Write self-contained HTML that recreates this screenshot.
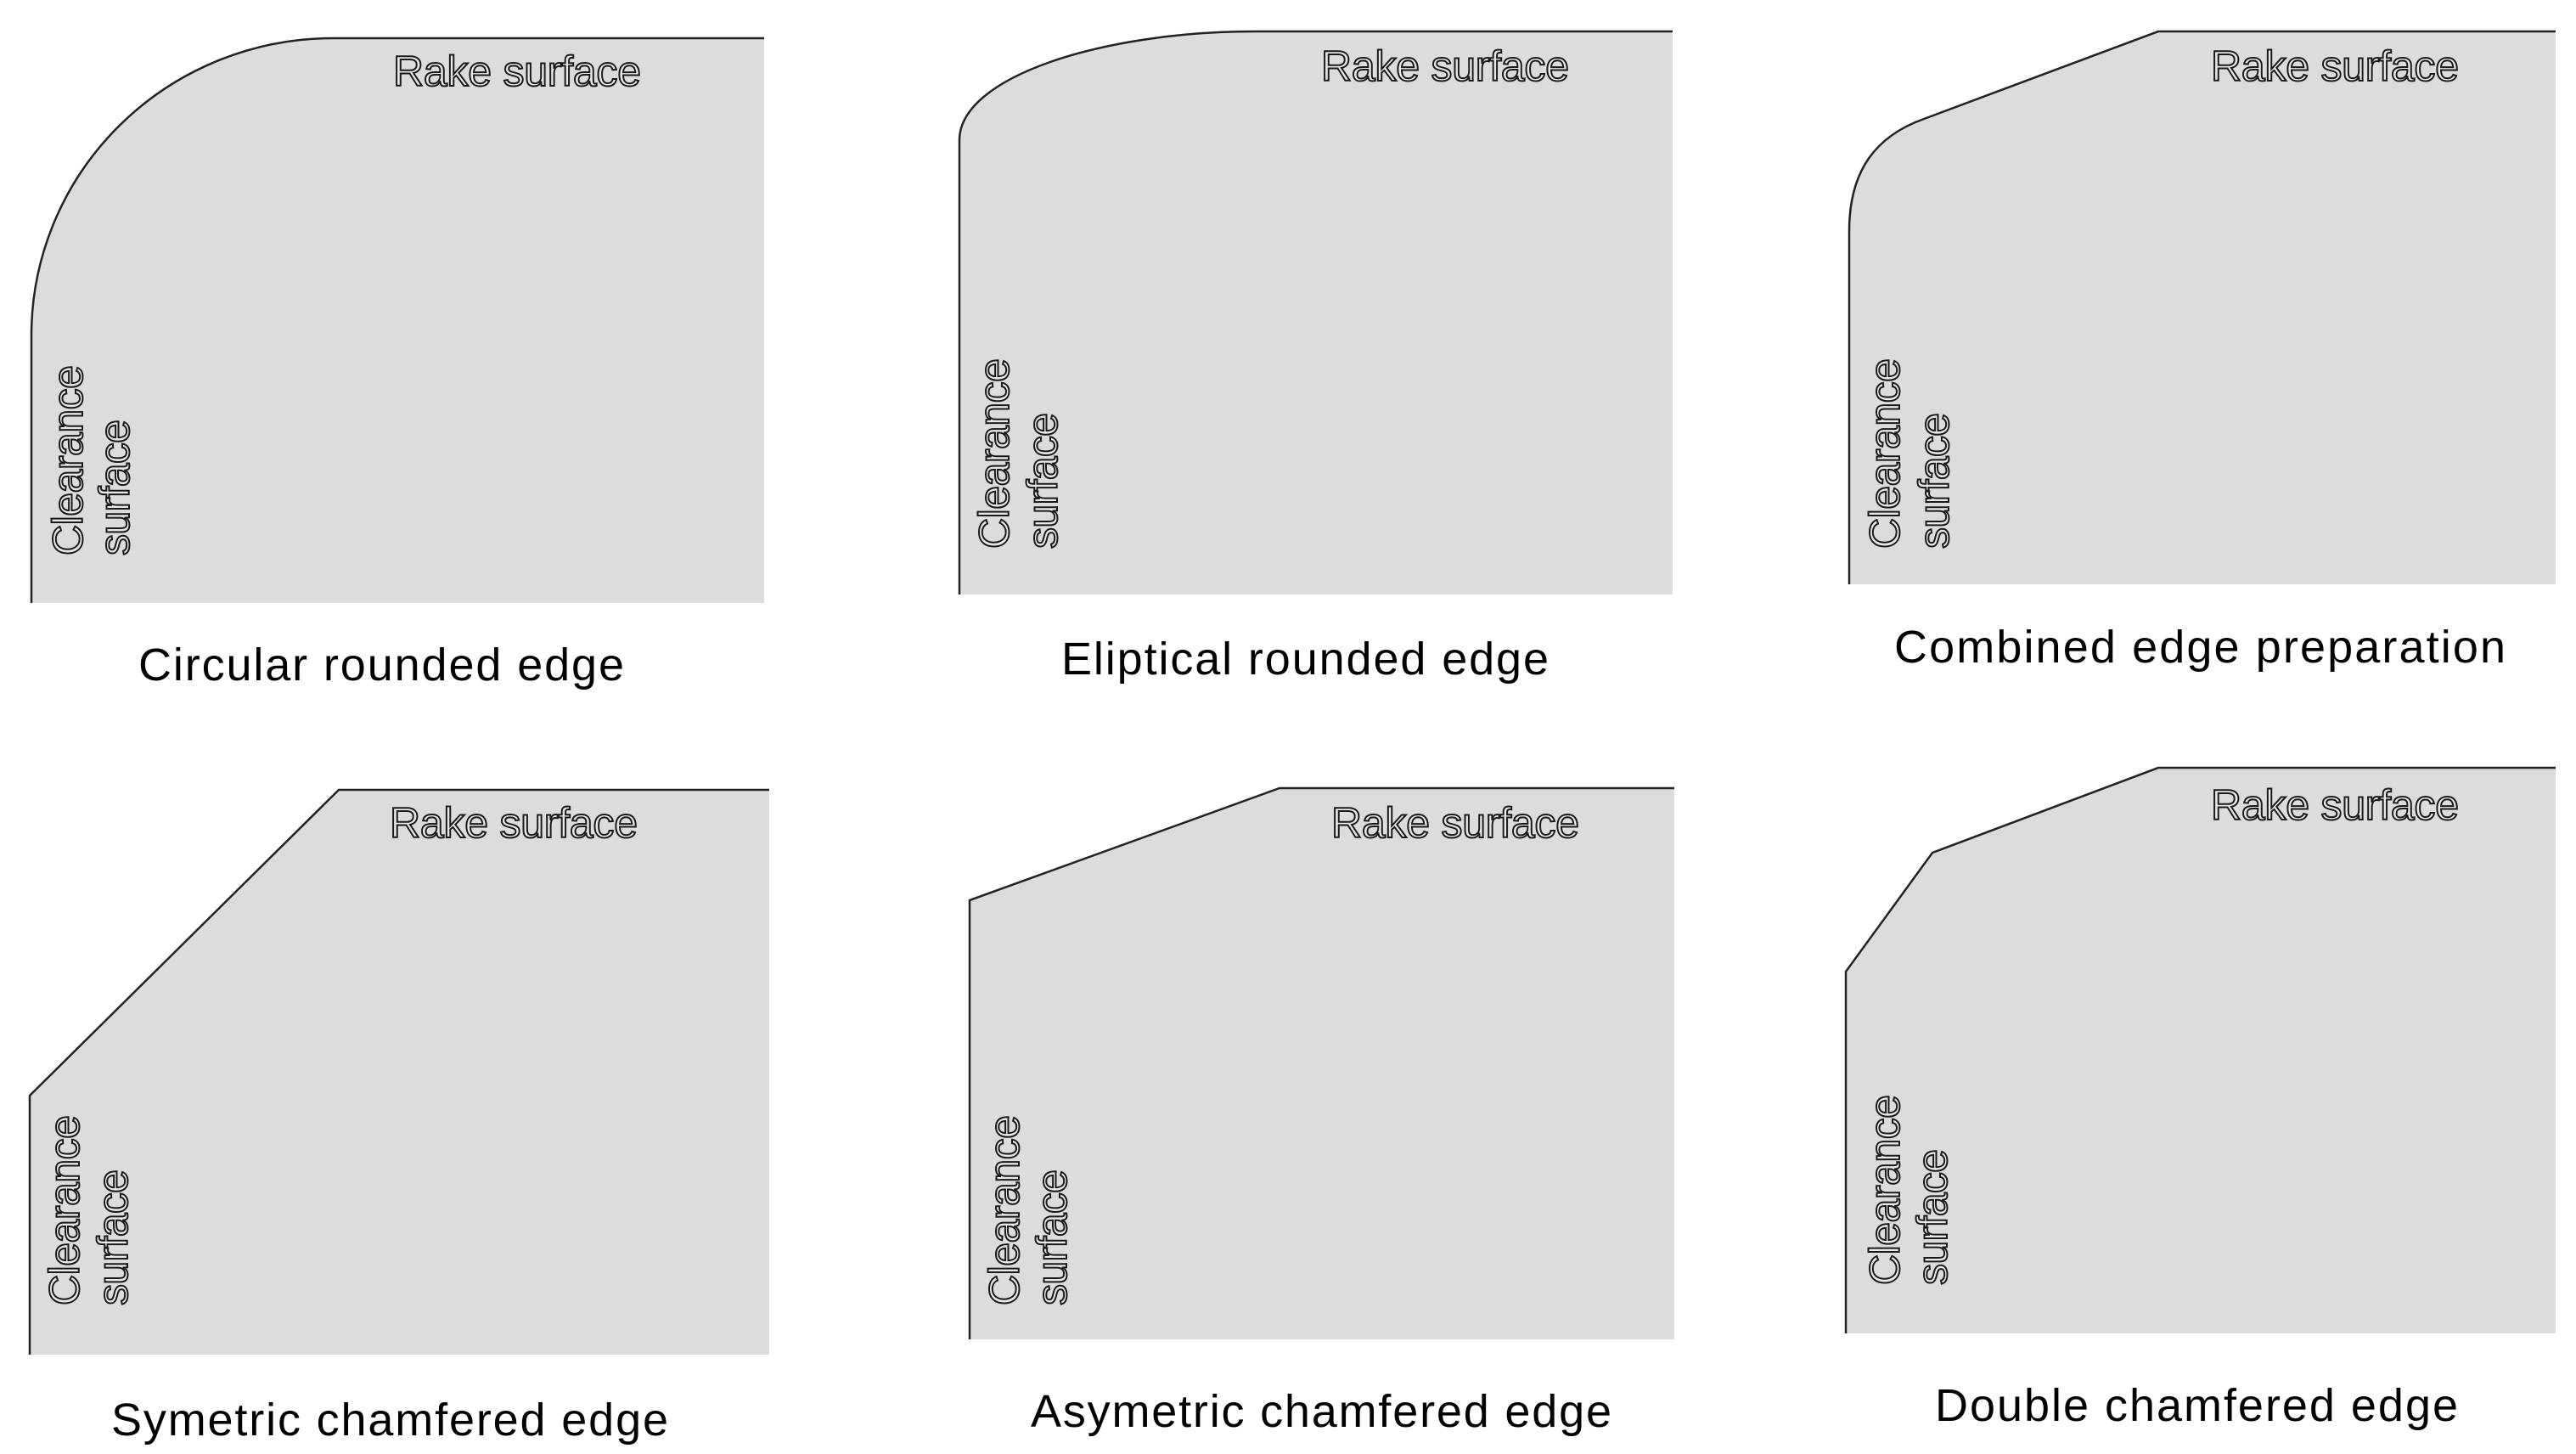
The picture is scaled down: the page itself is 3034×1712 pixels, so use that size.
<!DOCTYPE html>
<html><head><meta charset="utf-8"><style>html,body{margin:0;padding:0;background:#fff}svg{display:block}</style></head>
<body>
<svg width="3034" height="1712" viewBox="0 0 3034 1712" xmlns="http://www.w3.org/2000/svg">
<g fill="#dcdcdc" stroke="none">
<path d="M37 395 A355 350 0 0 1 392 45 L900 45 L900 710 L37 710 Z"/>
<path d="M1130 710 L1130 165 C1130 90 1300 37 1478 37 L1970 37 L1970 700 L1130 700 Z"/>
<path d="M2178 688 L2178 272 C2178 200 2210 160 2266 140 L2542 37 L3010 37 L3010 688 Z"/>
<path d="M35 1595 L35 1290 L399 930 L906 930 L906 1595 Z"/>
<path d="M1142 1577 L1142 1060 L1507 928 L1972 928 L1972 1577 Z"/>
<path d="M2174 1570 L2174 1144 L2276 1004 L2542 904 L3010 904 L3010 1570 Z"/>
</g>
<g fill="none" stroke="#222" stroke-width="2.5">
<path d="M37 710 L37 395 A355 350 0 0 1 392 45 L900 45"/>
<path d="M1130 700 L1130 165 C1130 90 1300 37 1478 37 L1970 37"/>
<path d="M2178 688 L2178 272 C2178 200 2210 160 2266 140 L2542 37 L3010 37"/>
<path d="M35 1595 L35 1290 L399 930 L906 930"/>
<path d="M1142 1577 L1142 1060 L1507 928 L1972 928"/>
<path d="M2174 1570 L2174 1144 L2276 1004 L2542 904 L3010 904"/>
</g>
<g font-family="Liberation Sans, sans-serif" font-size="50" fill="#e8e8e8" stroke="#1a1a1a" stroke-width="2">
<text x="463" y="101" textLength="292">Rake surface</text>
<text x="1556" y="95" textLength="292">Rake surface</text>
<text x="2604" y="95" textLength="292">Rake surface</text>
<text x="459" y="986" textLength="292">Rake surface</text>
<text x="1568" y="986" textLength="292">Rake surface</text>
<text x="2604" y="965" textLength="292">Rake surface</text>
<text transform="translate(97 654) rotate(-90)" textLength="224">Clearance</text>
<text transform="translate(152 654) rotate(-90)" textLength="160">surface</text>
<text transform="translate(1188 646) rotate(-90)" textLength="224">Clearance</text>
<text transform="translate(1245 646) rotate(-90)" textLength="160">surface</text>
<text transform="translate(2237 646) rotate(-90)" textLength="224">Clearance</text>
<text transform="translate(2295 646) rotate(-90)" textLength="160">surface</text>
<text transform="translate(93 1537) rotate(-90)" textLength="224">Clearance</text>
<text transform="translate(150 1537) rotate(-90)" textLength="160">surface</text>
<text transform="translate(1200 1537) rotate(-90)" textLength="224">Clearance</text>
<text transform="translate(1256 1537) rotate(-90)" textLength="160">surface</text>
<text transform="translate(2237 1513) rotate(-90)" textLength="224">Clearance</text>
<text transform="translate(2293 1513) rotate(-90)" textLength="160">surface</text>
</g>
<g font-family="Liberation Sans, sans-serif" font-size="54" fill="#000" text-anchor="middle">
<text x="449" y="801" textLength="572">Circular rounded edge</text>
<text x="1537" y="794" textLength="574">Eliptical rounded edge</text>
<text x="2591" y="780" textLength="720">Combined edge preparation</text>
<text x="459" y="1690" textLength="656">Symetric chamfered edge</text>
<text x="1556" y="1680" textLength="684">Asymetric chamfered edge</text>
<text x="2587" y="1673" textLength="616">Double chamfered edge</text>
</g>
</svg>
</body></html>
